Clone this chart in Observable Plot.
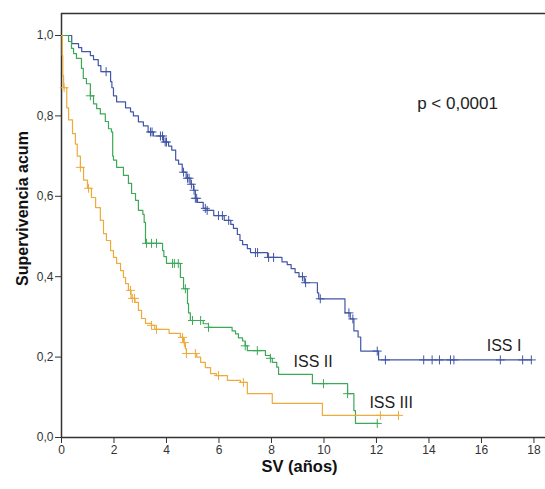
<!DOCTYPE html>
<html>
<head>
<meta charset="utf-8">
<script src="https://cdn.jsdelivr.net/npm/d3@7"></script>
<script src="https://cdn.jsdelivr.net/npm/@observablehq/plot@0.6"></script>
<style>
  html, body { margin: 0; padding: 0; background: #fff; }
  #chart { width: 545px; height: 489px; }
</style>
</head>
<body>
<div id="chart"></div>
<script>
// ---- Data ----
const groups = ["ISS I", "ISS II", "ISS III"];
const groupColors = ["#4156a6", "#3ca957", "#eeaa3a"];

const iss1Time = [0, 0.39, 0.65, 0.77, 1.1, 1.22, 1.4, 1.5, 1.87, 1.92, 1.98, 2.1, 2.44, 2.63, 2.74, 2.93, 3.12, 3.3, 3.5, 3.89, 4.08, 4.2, 4.35, 4.46, 4.6, 4.75, 4.9, 5.03, 5.1, 5.18, 5.4, 5.55, 5.8, 6.2, 6.45, 6.55, 6.7, 6.8, 6.9, 7.08, 7.2, 7.85, 8.4, 8.6, 8.75, 8.9, 9.05, 9.25, 9.75, 9.8, 10.8, 11.0, 11.14, 11.3, 11.4, 12.08];
const iss1Surv = [1.0, 0.98, 0.97, 0.96, 0.95, 0.94, 0.925, 0.91, 0.885, 0.87, 0.85, 0.835, 0.82, 0.81, 0.80, 0.785, 0.775, 0.76, 0.75, 0.735, 0.725, 0.715, 0.69, 0.68, 0.66, 0.645, 0.63, 0.615, 0.595, 0.585, 0.57, 0.565, 0.552, 0.54, 0.53, 0.52, 0.505, 0.49, 0.48, 0.47, 0.46, 0.448, 0.437, 0.43, 0.42, 0.41, 0.40, 0.385, 0.36, 0.345, 0.31, 0.295, 0.265, 0.25, 0.215, 0.193];
const iss1Censor = [1.7, 3.39, 3.45, 3.77, 3.85, 3.95, 4.0, 4.65, 4.8, 4.86, 4.95, 5.05, 5.1, 5.15, 5.48, 5.55, 5.98, 6.13, 6.37, 7.39, 7.47, 7.89, 8.08, 9.18, 9.3, 9.86, 10.95, 11.1, 12.03, 12.34, 13.8, 14.12, 14.4, 14.82, 14.95, 16.72, 17.57, 17.9];

const iss2Time = [0, 0.27, 0.38, 0.46, 0.57, 0.76, 0.83, 0.95, 1.1, 1.22, 1.34, 1.48, 1.67, 1.79, 1.9, 1.95, 1.98, 2.1, 2.36, 2.55, 2.67, 2.82, 2.93, 3.1, 3.15, 3.2, 3.85, 3.9, 4.0, 4.53, 4.65, 4.8, 4.84, 4.91, 5.4, 5.6, 6.5, 6.63, 6.74, 6.9, 7.0, 7.08, 7.77, 7.96, 8.03, 8.2, 8.27, 9.56, 10.9, 11.14, 11.2];
const iss2Surv = [1.0, 0.985, 0.968, 0.955, 0.943, 0.918, 0.893, 0.88, 0.85, 0.83, 0.818, 0.805, 0.786, 0.768, 0.76, 0.70, 0.69, 0.672, 0.652, 0.632, 0.607, 0.59, 0.565, 0.555, 0.535, 0.483, 0.465, 0.45, 0.433, 0.398, 0.37, 0.333, 0.31, 0.291, 0.283, 0.274, 0.265, 0.258, 0.248, 0.24, 0.228, 0.216, 0.204, 0.197, 0.187, 0.175, 0.157, 0.134, 0.109, 0.067, 0.035];
const iss2Censor = [1.1, 3.24, 3.43, 3.62, 4.23, 4.3, 4.45, 4.72, 4.99, 5.3, 5.6, 7.0, 7.46, 7.96, 9.98, 10.9, 12.03];

const iss3Time = [0, 0.03, 0.05, 0.08, 0.2, 0.27, 0.42, 0.53, 0.6, 0.72, 0.84, 0.99, 1.14, 1.3, 1.48, 1.6, 1.71, 1.87, 1.98, 2.1, 2.25, 2.36, 2.44, 2.55, 2.65, 2.8, 2.93, 3.05, 3.2, 3.43, 3.55, 4.1, 4.53, 4.65, 4.72, 4.76, 5.15, 5.3, 5.48, 5.68, 5.9, 6.32, 6.82, 7.08, 8.03, 9.94];
const iss3Surv = [1.0, 0.95, 0.90, 0.87, 0.82, 0.79, 0.756, 0.73, 0.70, 0.672, 0.64, 0.62, 0.597, 0.572, 0.54, 0.507, 0.49, 0.465, 0.448, 0.433, 0.415, 0.398, 0.383, 0.366, 0.346, 0.336, 0.316, 0.296, 0.284, 0.279, 0.269, 0.259, 0.249, 0.236, 0.221, 0.209, 0.2, 0.187, 0.174, 0.159, 0.154, 0.142, 0.137, 0.109, 0.085, 0.055];
const iss3Censor = [0.1, 0.72, 1.03, 2.63, 2.7, 2.78, 3.43, 3.62, 4.61, 4.68, 4.76, 5.1, 5.98, 6.93, 12.15, 12.84];

const xTicks = [0, 2, 4, 6, 8, 10, 12, 14, 16, 18];
const yTicks = [0, 0.2, 0.4, 0.6, 0.8, 1.0];

const labelText = ["ISS I", "ISS II", "ISS III"];
const labelX = [16.2, 8.84, 11.73];
const labelY = [0.229, 0.187, 0.087];

const pText = "p < 0,0001";
const pX = 13.55;
const pY = 0.83;

const xTitle = "SV (años)";
const yTitle = "Supervivencia acum";

// ---- Build tables ----
const series = [
  {g: groups[0], time: iss1Time, surv: iss1Surv, cens: iss1Censor},
  {g: groups[1], time: iss2Time, surv: iss2Surv, cens: iss2Censor},
  {g: groups[2], time: iss3Time, surv: iss3Surv, cens: iss3Censor}
];
function levelAt(sr, t) {
  let s = sr.surv[0];
  for (let i = 0; i < sr.time.length; i++) if (sr.time[i] <= t) s = sr.surv[i];
  return s;
}
const lineData = [];
const censorData = [];
for (const sr of series) {
  sr.time.forEach((t, i) => lineData.push({g: sr.g, t, s: sr.surv[i]}));
  const end = d3.max(sr.cens);
  lineData.push({g: sr.g, t: end, s: sr.surv[sr.surv.length - 1]});
  sr.cens.forEach(t => censorData.push({g: sr.g, t, s: levelAt(sr, t)}));
}
const labels = labelText.map((text, i) => ({text, x: labelX[i], y: labelY[i]}));

const yMax = 1.0547;
const fmt = v => d3.format(".1f")(v).replace(".", ",");

const chart = Plot.plot({
  width: 545,
  height: 489,
  marginLeft: 61,
  marginRight: 0,
  marginTop: 13,
  marginBottom: 52,
  style: {fontFamily: "'Liberation Sans', Arial, sans-serif", fontSize: "12px", color: "#333", background: "#fff"},
  x: {domain: [0, 18.44], label: null},
  y: {domain: [0, yMax], label: null},
  color: {domain: groups, range: groupColors},
  marks: [
    Plot.axisX({ticks: xTicks, tickSize: 6, tickPadding: 2, label: null, stroke: "#333", fontSize: 12}),
    Plot.axisY({ticks: yTicks, tickSize: 6, tickPadding: 2, tickFormat: fmt, label: null, stroke: "#333", fontSize: 12}),
    Plot.ruleY([yMax], {stroke: "#333", strokeWidth: 1.5}),
    Plot.ruleY([0], {stroke: "#333", strokeWidth: 1.5}),
    Plot.ruleX([0], {stroke: "#333", strokeWidth: 1.5}),
    Plot.line(lineData, {x: "t", y: "s", z: "g", stroke: "g", curve: "step-after", strokeWidth: 1.2}),
    Plot.dot(censorData, {x: "t", y: "s", stroke: "g", symbol: "plus", r: 3, strokeWidth: 1}),
    Plot.text(labels, {x: "x", y: "y", text: "text", textAnchor: "start", fontSize: 16, fill: "#222"}),
    Plot.text([pText], {x: pX, y: pY, text: d => d, textAnchor: "start", fontSize: 17, fill: "#222"}),
    Plot.text([xTitle], {frameAnchor: "bottom", textAnchor: "middle", dy: 34, dx: -4, fontSize: 16.5, fontWeight: "bold", fill: "#111"}),
    Plot.text([yTitle], {frameAnchor: "left", textAnchor: "middle", dx: -39, dy: -17, rotate: -90, fontSize: 16, fontWeight: "bold", fill: "#111"})
  ]
});
document.getElementById("chart").appendChild(chart);
</script>
</body>
</html>
